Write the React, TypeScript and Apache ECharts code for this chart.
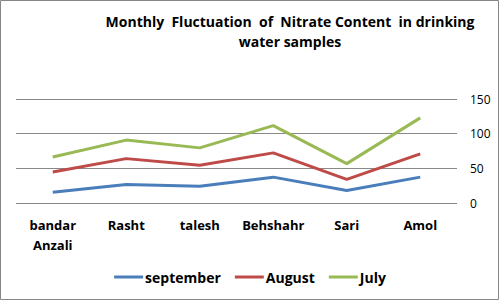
import React, { useEffect, useRef } from "react";
import * as echarts from "echarts";

const categories = ["bandar\nAnzali", "Rasht", "talesh", "Behshahr", "Sari", "Amol"];
const september = [15.5, 26.7, 24.2, 37.3, 17.9, 37.3];
const august = [44.6, 64, 54.3, 72.3, 34, 70.8];
const july = [66.4, 90.7, 79.5, 111.6, 56.8, 122.8];
const yTicks = { min: 0, max: 150, interval: 50 };

const FONT = "'Open Sans', 'Liberation Sans', sans-serif";

export default function App() {
  const ref = useRef<HTMLDivElement>(null);
  useEffect(() => {
    document.body.style.margin = "0";
    const chart = echarts.init(ref.current!, null, { renderer: "svg" });
    const mk = (name: string, data: number[], color: string) => ({
      name,
      type: "line",
      data,
      symbol: "none",
      showSymbol: false,
      lineStyle: { width: 3, color },
      itemStyle: { color },
    });
    chart.setOption({
      animation: false,
      backgroundColor: "#fff",
      textStyle: { fontFamily: FONT },
      title: {
        text: "Monthly  Fluctuation  of  Nitrate Content  in drinking\nwater samples",
        left: 285,
        top: 6,
        textAlign: "center",
        textStyle: { fontFamily: FONT, fontSize: 14, fontWeight: "bold", color: "#000", lineHeight: 20 },
      },
      graphic: [
        {
          type: "rect",
          shape: { x: 0.5, y: 0.5, width: 498, height: 299 },
          style: { fill: "none", stroke: "#868686", lineWidth: 1 },
          silent: true,
        },
      ],
      legend: {
        left: "center",
        top: 265,
        icon: "rect",
        itemWidth: 29,
        itemHeight: 3,
        itemGap: 14,
        textStyle: { fontFamily: FONT, fontSize: 14, fontWeight: "bold", color: "#000", padding: [0, 0, 0, -3] },
        data: ["september", "August", "July"],
      },
      grid: { left: 16, right: 43, top: 99, bottom: 98, containLabel: false },
      xAxis: {
        type: "category",
        data: categories,
        boundaryGap: true,
        axisLine: { show: false },
        axisTick: { show: false },
        axisLabel: {
          margin: 12,
          fontFamily: FONT,
          fontSize: 13,
          fontWeight: "bold",
          color: "#000",
          lineHeight: 20,
          interval: 0,
        },
      },
      yAxis: {
        type: "value",
        position: "right",
        min: yTicks.min,
        max: yTicks.max,
        interval: yTicks.interval,
        axisLine: { show: false },
        axisTick: { show: false },
        axisLabel: { margin: 13, fontFamily: FONT, fontSize: 12, color: "#000", align: "left" },
        splitLine: { lineStyle: { color: "#898989", width: 1 } },
      },
      series: [
        mk("september", september, "#4A7EBB"),
        mk("August", august, "#BE4B48"),
        mk("July", july, "#98B954"),
      ],
    });
    return () => chart.dispose();
  }, []);
  return <div ref={ref} style={{ position: "fixed", left: 0, top: 0, width: 500, height: 301 }} />;
}
